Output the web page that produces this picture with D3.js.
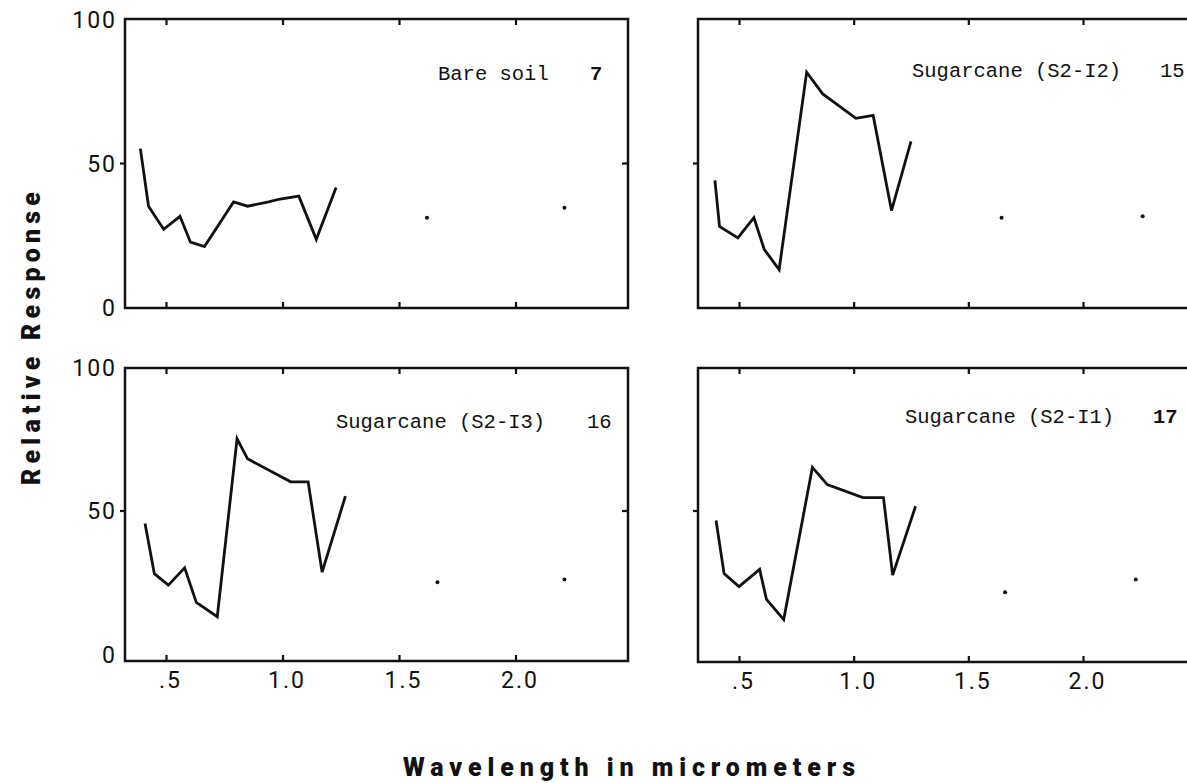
<!DOCTYPE html>
<html>
<head>
  <meta charset="utf-8">
  <title>Relative response spectra</title>
  <script src="https://d3js.org/d3.v7.min.js"></script>
  <style>
    body { margin: 0; background: #fff; }
    svg { display: block; }
    .frame { fill: none; stroke: #111; stroke-width: 2.5px; }
    .curve { fill: none; stroke: #111; stroke-width: 2.8px; stroke-linejoin: miter; }
    .dot { fill: #111; }
    .tick line { stroke: #111; stroke-width: 2.2px; }
    .axis path.domain { display: none; }
    .num text { font-family: Roboto, "Open Sans", sans-serif; font-weight: 400; font-size: 23px; fill: #111; letter-spacing: 2px; }
    .cap { font-family: "Courier New", "Liberation Mono", monospace; font-size: 20.5px; fill: #111; }
    .title { font-family: Roboto, "DejaVu Sans", sans-serif; font-weight: 900; font-size: 25px; fill: #111; }
  </style>
</head>
<body>
  <svg width="1187" height="783"></svg>

  <script>
    // wavelength ticks and response ticks
    const xTicks = [0.5, 1.0, 1.5, 2.0];
    const xTickLabels = [".5", "1.0", "1.5", "2.0"];
    const yTicks = [0, 50, 100];

    // Bare soil (7)
    const wlSoil = [0.39, 0.425, 0.49, 0.56, 0.605, 0.665, 0.79, 0.85, 0.94, 0.99, 1.07, 1.145, 1.23];
    const rSoil  = [55, 35, 27, 31.5, 22.5, 21, 36.5, 35, 36.5, 37.5, 38.5, 23.5, 41.5];
    const dotWlSoil = [1.62, 2.21];
    const dotRSoil  = [31, 34.5];

    // Sugarcane (S2-I2) (15)
    const wlI2 = [0.395, 0.415, 0.495, 0.565, 0.61, 0.675, 0.795, 0.865, 1.01, 1.085, 1.165, 1.25];
    const rI2  = [44, 28, 24, 31, 20, 13, 81.5, 74, 65.5, 66.5, 33.5, 57.5];
    const dotWlI2 = [1.645, 2.26];
    const dotRI2  = [31, 31.5];

    // Sugarcane (S2-I3) (16)
    const wlI3 = [0.41, 0.45, 0.51, 0.58, 0.63, 0.72, 0.805, 0.85, 1.035, 1.11, 1.17, 1.27];
    const rI3  = [45.5, 28, 24, 30, 18, 13, 75, 68, 60, 60, 28.5, 55];
    const dotWlI3 = [1.665, 2.21];
    const dotRI3  = [25, 26];

    // Sugarcane (S2-I1) (17)
    const wlI1 = [0.40, 0.435, 0.50, 0.59, 0.62, 0.695, 0.82, 0.885, 1.04, 1.13, 1.17, 1.27];
    const rI1  = [46.5, 28, 23.5, 29.5, 19, 12, 65, 59, 54.5, 54.5, 27.5, 51.5];
    const dotWlI1 = [1.66, 2.23];
    const dotRI1  = [21.5, 26];

    const names = ["Bare soil", "Sugarcane (S2-I2)", "Sugarcane (S2-I3)", "Sugarcane (S2-I1)"];
    const numbers = ["7", "15", "16", "17"];

    // panel placement on the page
    const layout = [
      { box: [125, 628, 19, 308],  xr: [166, 515.5], yr: [307, 19],  cap: [438, 80],  numX: 590,  bold: true,  left: true,  bottom: false },
      { box: [698, 1201, 19, 308], xr: [739, 1083],  yr: [307, 19],  cap: [912, 77],  numX: 1160, bold: false, left: false, bottom: false },
      { box: [125, 628, 368, 661], xr: [166, 515.5], yr: [654, 367], cap: [336, 428], numX: 587,  bold: false, left: true,  bottom: true },
      { box: [698, 1201, 368, 662], xr: [739, 1083], yr: [654, 367], cap: [905, 423], numX: 1153, bold: true,  left: false, bottom: true }
    ];

    const series = [
      { wl: wlSoil, r: rSoil, dwl: dotWlSoil, dr: dotRSoil },
      { wl: wlI2, r: rI2, dwl: dotWlI2, dr: dotRI2 },
      { wl: wlI3, r: rI3, dwl: dotWlI3, dr: dotRI3 },
      { wl: wlI1, r: rI1, dwl: dotWlI1, dr: dotRI1 }
    ];

    const svg = d3.select("svg");

    series.forEach((s, i) => {
      const L = layout[i];
      const [x0, x1, y0, y1] = L.box;
      const x = d3.scaleLinear().domain([0.5, 2.0]).range(L.xr);
      const y = d3.scaleLinear().domain([0, 100]).range(L.yr);
      const g = svg.append("g");

      g.append("rect").attr("class", "frame")
        .attr("x", x0).attr("y", y0).attr("width", x1 - x0).attr("height", y1 - y0);

      // inward ticks top and bottom
      g.append("g").attr("class", "axis").attr("transform", `translate(0,${y1})`)
        .call(d3.axisBottom(x).tickValues(xTicks).tickSize(-6).tickFormat(""));
      g.append("g").attr("class", "axis").attr("transform", `translate(0,${y0})`)
        .call(d3.axisTop(x).tickValues(xTicks).tickSize(-6).tickFormat(""));

      // 50 tick: out on the left, in on the right
      g.append("g").attr("class", "axis").attr("transform", `translate(${x0},0)`)
        .call(d3.axisLeft(y).tickValues([50]).tickSize(5).tickFormat(""));
      g.append("g").attr("class", "axis").attr("transform", `translate(${x1},0)`)
        .call(d3.axisRight(y).tickValues([50]).tickSize(-6).tickFormat(""));

      if (L.left) {
        const ya = g.append("g").attr("class", "axis num").attr("transform", `translate(${x0},0)`)
          .call(d3.axisLeft(y).tickValues(yTicks).tickSize(0).tickPadding(8).tickFormat(d3.format("d")));
        ya.selectAll("text").attr("dy", "0.36em");
      }
      if (L.bottom) {
        g.append("g").attr("class", "axis num").attr("transform", `translate(0,${y1})`)
          .call(d3.axisBottom(x).tickValues(xTicks).tickSize(0).tickPadding(11)
            .tickFormat((d, k) => xTickLabels[k]))
          .selectAll("text").attr("dx", "4");
      }

      const line = d3.line().x(d => x(d[0])).y(d => y(d[1]));
      g.append("path").attr("class", "curve")
        .attr("d", line(d3.zip(s.wl, s.r)));

      g.selectAll("circle").data(d3.zip(s.dwl, s.dr)).join("circle")
        .attr("class", "dot")
        .attr("cx", d => x(d[0])).attr("cy", d => y(d[1])).attr("r", 2);

      g.append("text").attr("class", "cap")
        .attr("x", L.cap[0]).attr("y", L.cap[1]).text(names[i]);
      g.append("text").attr("class", "cap")
        .attr("x", L.numX).attr("y", L.cap[1])
        .style("font-weight", L.bold ? "bold" : "normal")
        .text(numbers[i]);
    });

    svg.append("text").attr("class", "title")
      .attr("x", 403).attr("y", 776)
      .attr("textLength", 452).attr("lengthAdjust", "spacing")
      .text("Wavelength in micrometers");

    svg.append("text").attr("class", "title")
      .attr("transform", "translate(40,485) rotate(-90)")
      .attr("textLength", 293).attr("lengthAdjust", "spacing")
      .text("Relative Response");
  </script>
</body>
</html>
